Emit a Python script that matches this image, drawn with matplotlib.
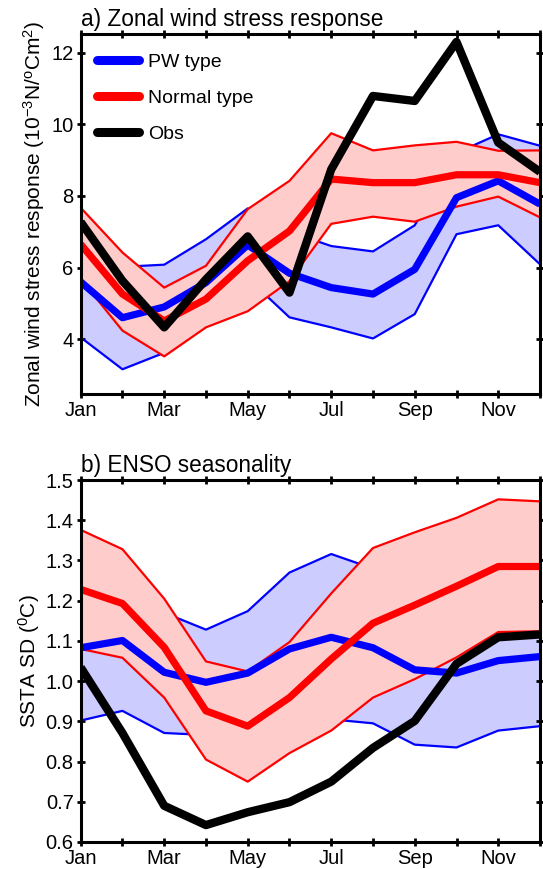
import matplotlib
matplotlib.use("Agg")
import matplotlib.pyplot as plt
import numpy as np

plt.rcParams['font.family'] = ['Liberation Sans', 'DejaVu Sans']
plt.rcParams['mathtext.fontset'] = 'custom'
plt.rcParams['mathtext.rm'] = 'Liberation Sans'
plt.rcParams['mathtext.it'] = 'Liberation Sans'

months = ["Jan", "Feb", "Mar", "Apr", "May", "Jun", "Jul", "Aug", "Sep", "Oct", "Nov", "Dec"]

# Panel a: zonal wind stress response (10^-3 N / degC m^2)
a_pw_mean = [5.60, 4.60, 4.90, 5.58, 6.63, 5.84, 5.44, 5.26, 5.95, 7.95, 8.42, 7.77]
a_pw_upper = [7.10, 6.02, 6.08, 6.79, 7.65, 7.00, 6.60, 6.45, 7.18, 9.20, 9.72, 9.40]
a_pw_lower = [4.05, 3.16, 3.62, 4.60, 5.70, 4.61, 4.33, 4.02, 4.70, 6.93, 7.18, 6.09]
a_nt_mean = [6.65, 5.26, 4.51, 5.12, 6.19, 7.02, 8.47, 8.37, 8.37, 8.59, 8.59, 8.37]
a_nt_upper = [7.67, 6.42, 5.44, 6.05, 7.63, 8.42, 9.75, 9.27, 9.41, 9.51, 9.26, 9.27]
a_nt_lower = [5.68, 4.24, 3.52, 4.33, 4.78, 5.62, 7.22, 7.42, 7.28, 7.70, 7.98, 7.40]
a_obs = [7.27, 5.63, 4.33, 5.67, 6.87, 5.30, 8.74, 10.79, 10.65, 12.30, 9.49, 8.67]

# Panel b: ENSO seasonality, SSTA SD (degC)
b_pw_mean = [1.083, 1.101, 1.022, 0.997, 1.020, 1.080, 1.109, 1.083, 1.028, 1.020, 1.051, 1.061]
b_pw_upper = [1.26, 1.21, 1.17, 1.128, 1.174, 1.270, 1.316, 1.280, 1.22, 1.20, 1.20, 1.20]
b_pw_lower = [0.902, 0.926, 0.871, 0.866, 0.870, 0.890, 0.905, 0.895, 0.842, 0.835, 0.877, 0.888]
b_nt_mean = [1.228, 1.193, 1.084, 0.926, 0.888, 0.959, 1.055, 1.144, 1.189, 1.236, 1.285, 1.285]
b_nt_upper = [1.376, 1.328, 1.205, 1.049, 1.024, 1.097, 1.218, 1.331, 1.370, 1.406, 1.452, 1.447]
b_nt_lower = [1.080, 1.058, 0.959, 0.805, 0.750, 0.821, 0.877, 0.959, 1.005, 1.059, 1.122, 1.124]
b_obs = [1.034, 0.871, 0.690, 0.642, 0.674, 0.699, 0.750, 0.834, 0.901, 1.043, 1.109, 1.116]

a_yticks = [4, 6, 8, 10, 12]
b_yticks = [0.6, 0.7, 0.8, 0.9, 1.0, 1.1, 1.2, 1.3, 1.4, 1.5]

BLUE = '#0000ff'
RED = '#ff0000'
BLUE_FILL = '#ccccff'
RED_FILL = '#ffcccc'

fig = plt.figure(figsize=(5.43, 8.69), dpi=100)
ax1 = fig.add_axes([0.1486, 0.5466, 0.8459, 0.4143])
ax2 = fig.add_axes([0.1486, 0.0311, 0.8459, 0.4165])

x = np.arange(len(months))


def draw(ax, pwm, pwu, pwl, ntm, ntu, ntl, obs):
    ax.fill_between(x, pwl, pwu, color=BLUE_FILL, lw=0, zorder=1)
    ax.plot(x, pwu, color=BLUE, lw=1.6, zorder=2)
    ax.plot(x, pwl, color=BLUE, lw=1.6, zorder=2)
    ax.fill_between(x, ntl, ntu, color=RED_FILL, lw=0, zorder=3)
    ax.plot(x, ntu, color=RED, lw=1.6, zorder=4)
    ax.plot(x, ntl, color=RED, lw=1.6, zorder=4)
    l1, = ax.plot(x, pwm, color=BLUE, lw=5.2, zorder=5, label='PW type',
                  solid_capstyle='butt')
    l2, = ax.plot(x, ntm, color=RED, lw=5.2, zorder=6, label='Normal type',
                  solid_capstyle='butt')
    l3, = ax.plot(x, obs, color='black', lw=6.0, zorder=7, label='Obs',
                  solid_capstyle='butt')
    ax.set_xlim(0, 11)
    ax.set_xticks(x)
    ax.set_xticklabels([m if i % 2 == 0 else '' for i, m in enumerate(months)])
    ax.tick_params(direction='inout', length=6, width=2, top=True, right=True,
                   labelsize=14.5, pad=2)
    for s in ax.spines.values():
        s.set_linewidth(2.2)
        s.set_zorder(10)
    return l1, l2, l3


h = draw(ax1, a_pw_mean, a_pw_upper, a_pw_lower, a_nt_mean, a_nt_upper, a_nt_lower, a_obs)
ax1.set_ylim(2.47, 12.52)
ax1.set_yticks(a_yticks)
ax1.set_ylabel('Zonal wind stress response (10$^{-3}$N/$^{o}$Cm$^{2}$)', fontsize=15, labelpad=3)
ax1.set_title('a) Zonal wind stress response', loc='left', fontsize=16.3, pad=6)
leg = ax1.legend(handles=list(h), loc='upper left', frameon=False, fontsize=14,
                 handlelength=2.2, handletextpad=0.45, labelspacing=0.95,
                 borderaxespad=0.3, bbox_to_anchor=(0.005, 0.985))
for lh in leg.get_lines():
    lh.set_linewidth(6.5)
    lh.set_solid_capstyle('round')

draw(ax2, b_pw_mean, b_pw_upper, b_pw_lower, b_nt_mean, b_nt_upper, b_nt_lower, b_obs)
ax2.set_ylim(0.6, 1.5)
ax2.set_yticks(b_yticks)
ax2.set_yticklabels(['%.1f' % v for v in b_yticks])
ax2.set_ylabel('SSTA SD ($^{0}$C)', fontsize=15, labelpad=3)
ax2.set_title('b) ENSO seasonality', loc='left', fontsize=16.3, pad=6)

fig.savefig('out.png', dpi=100)
